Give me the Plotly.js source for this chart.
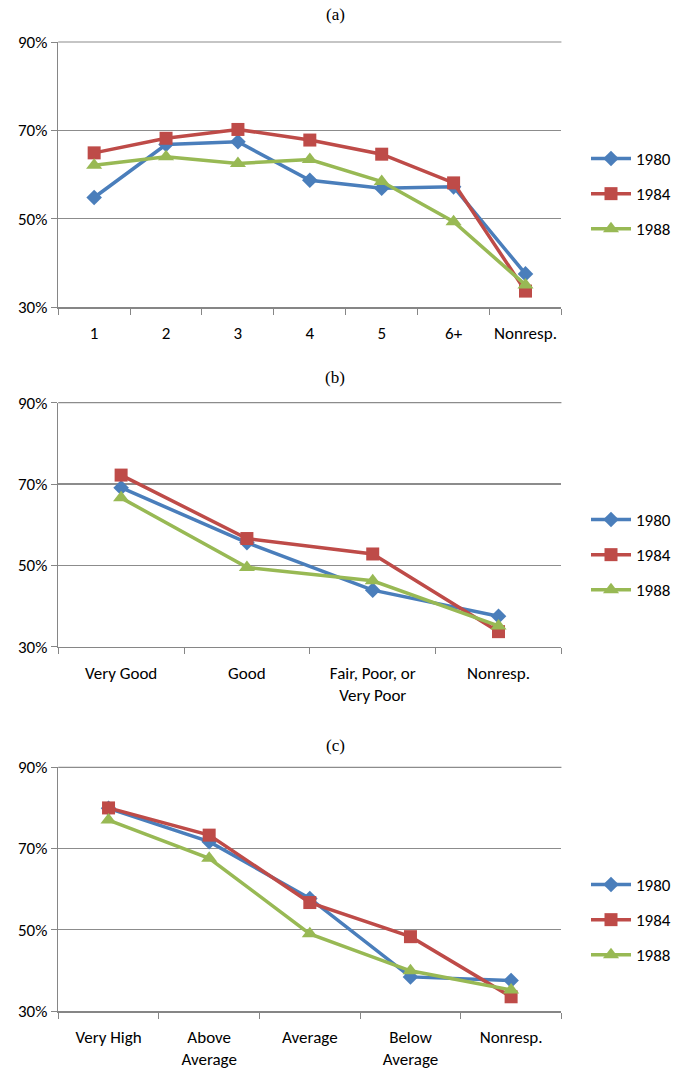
<!DOCTYPE html>
<html><head><meta charset="utf-8">
<script src="https://cdn.plot.ly/plotly-3.0.1.min.js"></script>
<style>html,body{margin:0;padding:0;background:#fff;overflow:hidden}#chart{width:676px;height:1069px}</style>
</head><body><div id="chart"></div>
<script>
const years = ["1980","1984","1988"];
const catsA = ["1","2","3","4","5","6+","Nonresp."];
const a1980 = [54.8,66.8,67.4,58.7,56.9,57.2,37.5];
const a1984 = [64.9,68.2,70.2,67.8,64.6,58.1,33.6];
const a1988 = [62.1,64.0,62.5,63.4,58.4,49.3,35.0];
const catsB = ["Very Good","Good","Fair, Poor, or<br>Very Poor","Nonresp."];
const b1980 = [69.1,55.6,43.9,37.5];
const b1984 = [72.2,56.6,52.8,33.7];
const b1988 = [66.6,49.5,46.2,35.1];
const catsC = ["Very High","Above<br>Average","Average","Below<br>Average","Nonresp."];
const c1980 = [79.9,71.7,57.7,38.4,37.5];
const c1984 = [80.0,73.3,56.7,48.3,33.5];
const c1988 = [77.0,67.6,49.0,39.9,35.2];
const panelTitles = ["(a)","(b)","(c)"];
const yTicks = [30,50,70,90];
const yTickText = ["30%","50%","70%","90%"];

const colors = ["#4A7EBB","#BE4B48","#98B954"];
const symbols = ["diamond","square","triangle-up"];
const msize = [12,13,14];

const panels = [
  {cats: catsA, series: [a1980,a1984,a1988]},
  {cats: catsB, series: [b1980,b1984,b1988]},
  {cats: catsC, series: [c1980,c1984,c1988]}
];
const H = 1069, W = 676;
const yPix = [[42,307],[402.7,646.7],[767.3,1011]];
const legY = [194,555,920];
const titleY = [15,378,745];
const FONT = "Carlito, Liberation Sans, Arial, sans-serif";

const traces = [];
const layout = {
  width: W, height: H, margin:{l:0,r:0,t:0,b:0},
  paper_bgcolor:"#fff", plot_bgcolor:"#fff",
  showlegend: true,
  font:{family:FONT, size:16, color:"#000"},
  annotations: [], shapes: []
};
panels.forEach((p,i)=>{
  const ax = i===0 ? "" : String(i+1);
  p.series.forEach((s,j)=>{
    traces.push({
      type:"scatter", mode:"lines+markers", x:p.cats, y:s, name:years[j],
      xaxis:"x"+ax, yaxis:"y"+ax, legend: i===0?"legend":"legend"+(i+1),
      legendgroup:"g"+i+"_"+j,
      line:{color:colors[j], width:3.5},
      marker:{symbol:symbols[j], size:msize[j], color:colors[j]},
      cliponaxis:false
    });
  });
  const dom = [1 - yPix[i][1]/H, 1 - yPix[i][0]/H];
  layout["xaxis"+ax] = {
    domain:[59/W, 569/W], anchor:"y"+ax, type:"category",
    range:[-0.5, p.cats.length-0.5], tickson:"boundaries", tickangle:0,
    ticks:"outside", ticklen:6, tickcolor:"#868686", showline:true,
    linecolor:"#868686", linewidth:1.5, showgrid:false, zeroline:false,
    ticklabelstandoff:10,
    tickfont:{size:17, family:FONT}
  };
  layout["yaxis"+ax] = {
    domain:dom, anchor:"x"+ax, range:[30,90], tickvals:yTicks, ticktext:yTickText,
    ticks:"outside", ticklen:6, tickcolor:"#868686", showline:true, linecolor:"#868686",
    linewidth:1.5, showgrid:true, gridcolor:"#8c8c8c", gridwidth:1.2, zeroline:false,
    tickfont:{size:17, family:FONT}
  };
  layout.shapes.push({
    type:"line", xref:"x"+ax+" domain", yref:"y"+ax+" domain", x0:0, x1:1, y0:1, y1:1,
    line:{color:"#8c8c8c", width:1.2}, layer:"below"
  });
  layout[i===0?"legend":"legend"+(i+1)] = {
    x:594/W, xanchor:"left", y:1-legY[i]/H, yanchor:"middle",
    font:{size:17, family:FONT},
    itemwidth:40, tracegroupgap:10, bgcolor:"rgba(0,0,0,0)"
  };
  layout.annotations.push({
    text:panelTitles[i], xref:"paper", yref:"paper", x:340/W, y:1-titleY[i]/H,
    xanchor:"center", yanchor:"middle", showarrow:false,
    font:{family:"Liberation Serif, Times New Roman, serif", size:17}
  });
});
Plotly.newPlot("chart", traces, layout, {staticPlot:true});
</script></body></html>
